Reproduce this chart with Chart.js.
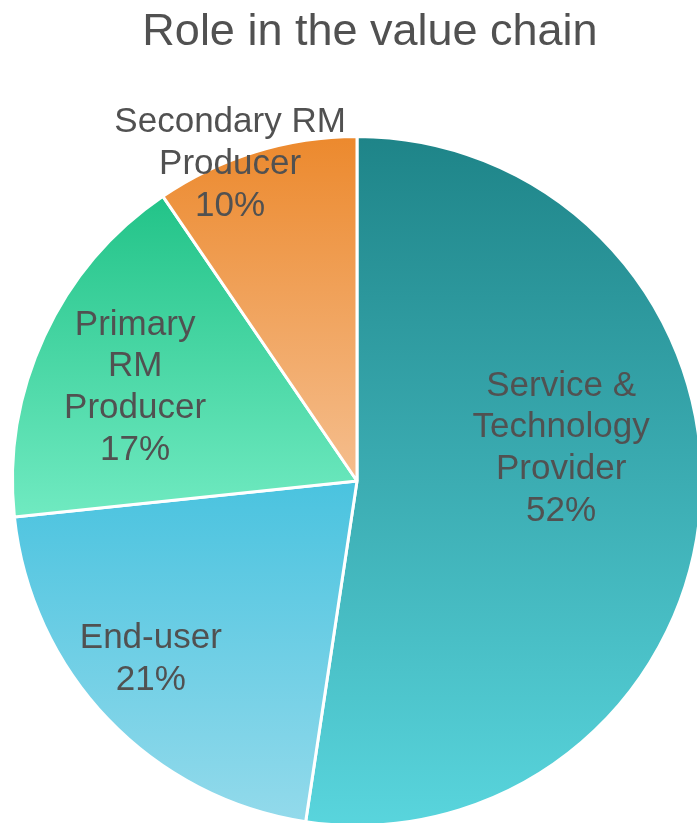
<!DOCTYPE html>
<html>
<head>
<meta charset="utf-8">
<script src="https://cdn.jsdelivr.net/npm/chart.js@4/dist/chart.umd.min.js"></script>
<style>
  html, body { margin: 0; padding: 0; background: #fff; overflow: hidden; }
  #wrap { position: absolute; left: 0; top: 0; }
</style>
</head>
<body>
<div id="wrap"><canvas id="roleChart" width="714" height="827"></canvas></div>
<script>
// Dados
const TITLE = 'Role in the value chain';
const categories = ['Service & Technology Provider', 'End-user', 'Primary RM Producer', 'Secondary RM Producer'];
const labelLines = [['Service &', 'Technology', 'Provider'], ['End-user'], ['Primary', 'RM', 'Producer'], ['Secondary RM', 'Producer']];
const counts = [55, 22, 18, 10];

// Cores (topo -> base de cada fatia)
const topColors = ['#1e8488', '#4ac3df', '#22c388', '#ec892d'];
const bottomColors = ['#59d5dd', '#93daeb', '#70eac1', '#f5be8e'];

// Posição dos rótulos: desvio do ângulo médio (graus) e fração do raio
const labelShift = [-13.3, 2.8, -2.0, -4.7];
const labelFrac = [0.600, 0.792, 0.699, 0.990];

const TEXT_COLOR = '#515151';
const FONT = '"Liberation Sans", Arial, sans-serif';
const total = counts.reduce((a, b) => a + b, 0);

// Gradiente vertical por fatia (cobre a caixa da própria fatia)
function sliceGradient(ctx) {
    const chart = ctx.chart;
    const area = chart.chartArea;
    const i = ctx.dataIndex;
    if (!area) return topColors[i];
    const cx = (area.left + area.right) / 2;
    const cy = (area.top + area.bottom) / 2;
    const r = Math.min(area.width, area.height) / 2;
    const before = counts.slice(0, i).reduce((a, b) => a + b, 0);
    const a0 = before / total * Math.PI * 2;
    const a1 = (before + counts[i]) / total * Math.PI * 2;
    const ys = [cy, cy - r * Math.cos(a0), cy - r * Math.cos(a1)];
    if (a0 <= Math.PI && a1 >= Math.PI) ys.push(cy + r);
    if (a0 <= 0 || a1 >= Math.PI * 2) ys.push(cy - r);
    const g = chart.ctx.createLinearGradient(0, Math.min(...ys), 0, Math.max(...ys));
    g.addColorStop(0, topColors[i]);
    g.addColorStop(1, bottomColors[i]);
    return g;
}

// Título + rótulos dentro das fatias
const sliceLabels = {
    id: 'sliceLabels',
    afterDatasetsDraw(chart) {
        const ctx = chart.ctx;
        const meta = chart.getDatasetMeta(0);
        ctx.save();
        ctx.fillStyle = TEXT_COLOR;
        ctx.textAlign = 'center';

        // título (levemente deslocado à direita, como no original)
        ctx.font = '45px ' + FONT;
        ctx.textBaseline = 'alphabetic';
        ctx.fillText(TITLE, chart.width / 2 + 13, 45);

        ctx.font = '35px ' + FONT;
        ctx.textBaseline = 'middle';
        const lineH = 41.7;
        meta.data.forEach((arc, i) => {
            const p = arc.getProps(['x', 'y', 'startAngle', 'endAngle', 'outerRadius'], true);
            const mid = (p.startAngle + p.endAngle) / 2 + labelShift[i] * Math.PI / 180;
            const px = p.x + Math.cos(mid) * p.outerRadius * labelFrac[i];
            const py = p.y + Math.sin(mid) * p.outerRadius * labelFrac[i];
            const pct = Math.round(counts[i] / total * 100) + '%';
            const lines = labelLines[i].concat([pct]);
            const y0 = py - (lines.length - 1) * lineH / 2;
            lines.forEach((t, k) => ctx.fillText(t, px, y0 + k * lineH));
        });
        ctx.restore();
    }
};

new Chart(document.getElementById('roleChart'), {
    type: 'pie',
    data: {
        labels: categories,
        datasets: [{
            data: counts,
            backgroundColor: sliceGradient,
            borderColor: '#ffffff',
            borderWidth: 3
        }]
    },
    options: {
        responsive: false,
        animation: false,
        layout: { padding: { top: 135 } },
        plugins: {
            legend: { display: false },
            tooltip: { enabled: false },
            title: { display: false }
        }
    },
    plugins: [sliceLabels]
});
</script>
</body>
</html>
